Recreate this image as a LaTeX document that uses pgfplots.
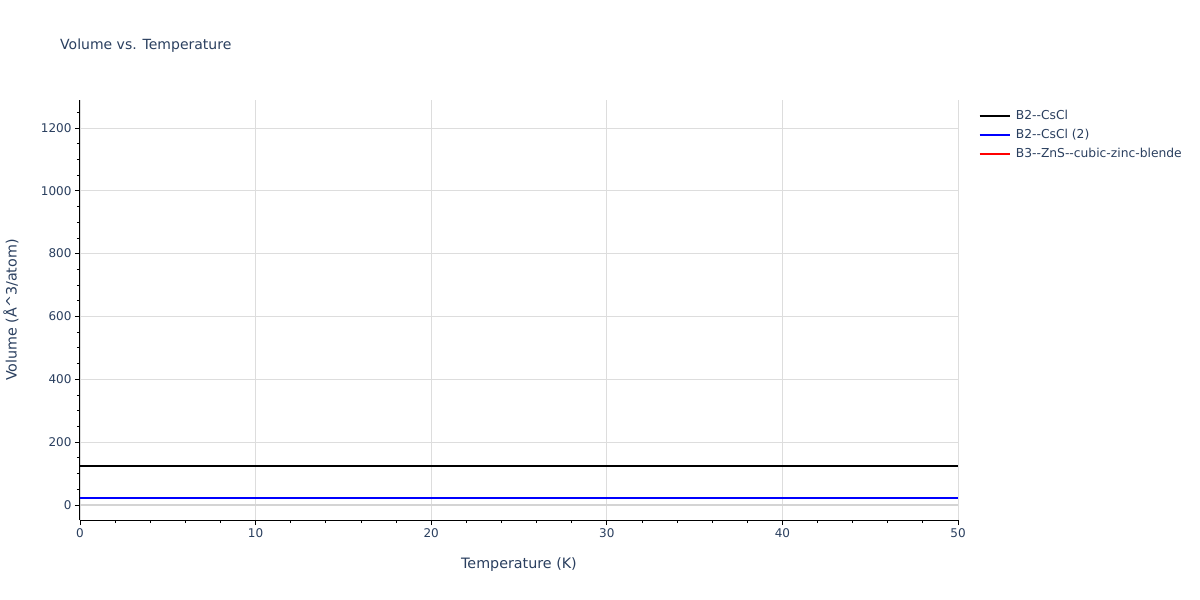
\documentclass[border=0pt]{standalone}
\usepackage{pgfplots}
\pgfplotsset{compat=1.18}
\usepackage{fontspec}
\setmainfont{DejaVu Sans}[Ligatures=TeXOff]
\definecolor{txt}{HTML}{2A3F5F}
\definecolor{grd}{HTML}{DDDDDD}
\begin{document}
\begin{tikzpicture}
  \useasboundingbox[fill=white] (0pt,0pt) rectangle (1200pt,600pt);
  \node[anchor=base west, text=txt, font=\fontsize{14}{16}\selectfont, inner sep=0pt] at (60pt,550pt) {Volume vs. Temperature};
  \begin{axis}[
      at={(80pt,80pt)}, anchor=south west,
      scale only axis, width=878pt, height=420pt,
      xmin=0, xmax=50, ymin=-48, ymax=1289,
      axis x line*=bottom, axis y line*=left,
      axis line style={black, line width=1pt},
      xtick={0,10,...,50}, ytick={0,200,...,1200},
      minor xtick={2,4,...,48}, minor ytick={50,100,...,1250},
      tick align=outside,
      major tick length=5pt, minor tick length=3pt,
      tick style={black, line width=0.8pt},
      xmajorgrids, ymajorgrids,
      major grid style={grd, line width=0.8pt},
      ticklabel style={text=txt, font=\fontsize{12}{14}\selectfont},
      /pgf/number format/assume math mode=true,
      /pgf/number format/1000 sep={},
      xlabel={Temperature (K)}, ylabel={Volume (Å\^{}3/atom)},
      label style={text=txt, font=\fontsize{14.3}{16}\selectfont},
      xlabel style={at={(axis description cs:0.5,0)}, anchor=north, yshift=-34pt},
      ylabel style={at={(axis description cs:0,0.5)}, anchor=south, yshift=58pt},
      legend style={at={(1.02,0.985)}, anchor=north west, draw=none, fill=none,
        font=\fontsize{12.3}{14}\selectfont, text=txt, row sep=4pt,
        cells={anchor=west}},
      legend cell align=left,
      legend image code/.code={\draw[line width=1.8pt,#1] (0pt,0pt) -- (30pt,0pt);
        \path (34pt,0pt);},
      clip=true,
    ]
    \addplot[grd!90!gray, line width=2pt, forget plot] coordinates {(0,0) (50,0)};
    \addplot[black, line width=1.8pt, forget plot] coordinates {(0,124) (50,124)};
    \addplot[blue, line width=1.8pt, forget plot] coordinates {(0,22) (50,22)};
    \addlegendimage{black}
    \addlegendentry{B2--CsCl}
    \addlegendimage{blue}
    \addlegendentry{B2--CsCl (2)}
    \addlegendimage{red}
    \addlegendentry{B3--ZnS--cubic-zinc-blende}
  \end{axis}
\end{tikzpicture}
\end{document}
